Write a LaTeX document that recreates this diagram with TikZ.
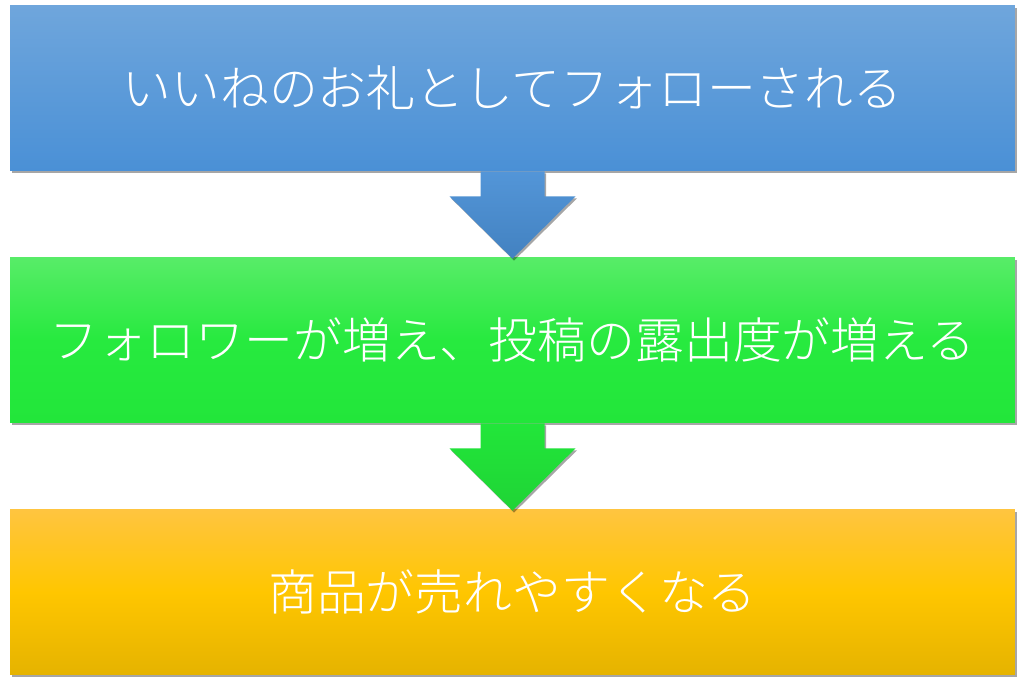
\documentclass[tikz,border=0pt]{standalone}
\usepackage{fontspec}
\newfontfamily\jfont{Noto Sans CJK JP Light}
\usetikzlibrary{calc,shadows}

\definecolor{azulA}{HTML}{6FA6DC}
\definecolor{azulB}{HTML}{4A90D6}
\definecolor{verdeA}{HTML}{58EC68}
\definecolor{verdeB}{HTML}{27EA3F}
\definecolor{verdeC}{HTML}{22E63A}
\definecolor{naranjaA}{HTML}{FFC540}
\definecolor{naranjaB}{HTML}{FFC600}
\definecolor{naranjaC}{HTML}{E5B300}

\tikzset{
  caja/.style={minimum width=20.1cm, minimum height=3.32cm, inner sep=0pt,
    text=white, font=\jfont\fontsize{27.8}{32}\selectfont,
    drop shadow={shadow xshift=0.04cm, shadow yshift=-0.05cm, opacity=0.35, fill=black}},
  flecha/.style={drop shadow={shadow xshift=0.03cm, shadow yshift=-0.04cm, opacity=0.35, fill=black}}
}

\begin{document}
\begin{tikzpicture}[x=0.02cm, y=-0.02cm]
    \useasboundingbox (0,0) rectangle (1024,685);

    % Cajas
    \node[caja, top color=azulA, bottom color=azulB] (c1) at (512.5,88) {いいねのお礼としてフォローされる};
    \node[caja, top color=verdeA, bottom color=verdeC, middle color=verdeB] (c2) at (512.5,340) {フォロワーが増え、投稿の露出度が増える};
    \node[caja, top color=naranjaA, bottom color=naranjaC, middle color=naranjaB] (c3) at (512.5,592) {商品が売れやすくなる};

    % Flechas
    \shade[flecha, top color=azulB!95!white, bottom color=azulB!90!black]
        ($(c1.south)+(-32,0)$) -- ($(c1.south)+(-32,25)$) -- ($(c1.south)+(-63,25)$)
        -- ($(c2.north)+(0,2)$)
        -- ($(c1.south)+(63,25)$) -- ($(c1.south)+(32,25)$) -- ($(c1.south)+(32,0)$) -- cycle;
    \shade[flecha, top color=verdeC, bottom color=verdeC!92!black]
        ($(c2.south)+(-32,0)$) -- ($(c2.south)+(-32,25)$) -- ($(c2.south)+(-63,25)$)
        -- ($(c3.north)+(0,2)$)
        -- ($(c2.south)+(63,25)$) -- ($(c2.south)+(32,25)$) -- ($(c2.south)+(32,0)$) -- cycle;
\end{tikzpicture}
\end{document}
